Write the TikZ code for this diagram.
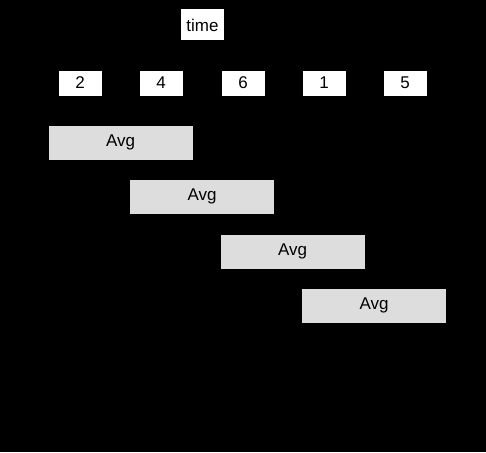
\documentclass[tikz,border=0pt]{standalone}
\usepackage{fontspec}
\setmainfont{Liberation Sans}
\usetikzlibrary{arrows.meta, positioning}
\definecolor{avggray}{HTML}{DDDDDD}

\begin{document}
\begin{tikzpicture}[x=1pt, y=-1pt,
    val/.style={draw=black, fill=white, minimum width=44pt,
                minimum height=26pt, inner sep=0pt, font=\fontsize{17}{20}\selectfont},
    avg/.style={draw=black, fill=avggray, minimum width=145pt,
                minimum height=35pt, inner sep=0pt, font=\fontsize{17}{20}\selectfont},
    arr/.style={-{Stealth[length=8pt]}, line width=1pt, black}
  ]
    % background
    \fill[black] (0,0) rectangle (486,452);
    \useasboundingbox (0,0) rectangle (486,452);
    % time axis
    \coordinate (T0) at (48,25);
    \coordinate (T1) at (446,25);
    \draw[arr] (T0) -- (T1);
    \node[fill=white, minimum width=43pt, minimum height=31pt, inner sep=0pt,
          font=\fontsize{17}{20}\selectfont] (time) at (202.5,25) {time};
    % values
    \node[val] (v1) at (80,83)  {2};
    \node[val] (v2) at (161,83) {4};
    \node[val] (v3) at (243,83) {6};
    \node[val] (v4) at (324,83) {1};
    \node[val] (v5) at (405,83) {5};
    % moving windows
    \node[avg] (a1) at (120.5,142.5) {Avg};
    \node[avg] (a2) at (202,196.5)   {Avg};
    \node[avg] (a3) at (292.5,251.5) {Avg};
    \node[avg] (a4) at (374,305.5)   {Avg};
  \end{tikzpicture}
\end{document}
